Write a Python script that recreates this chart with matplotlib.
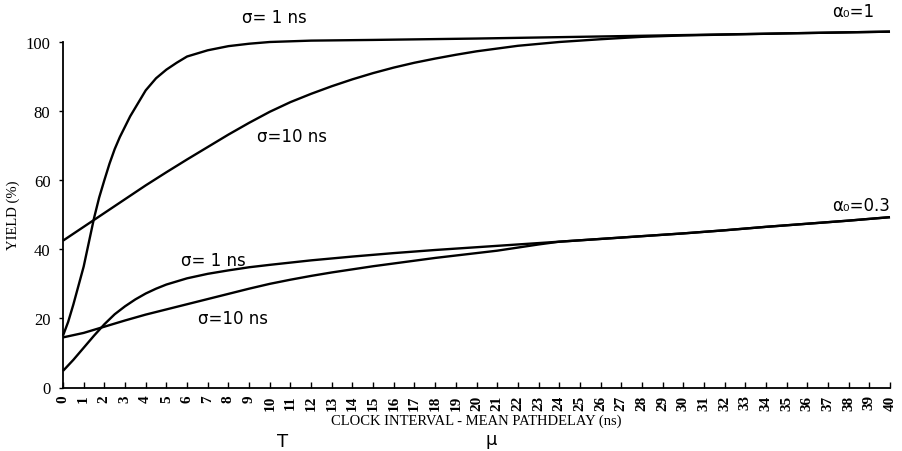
import matplotlib
matplotlib.use("Agg")
import matplotlib.pyplot as plt

# Yield vs. clock interval minus mean path delay
x_a = [0, 0.25, 0.5, 0.75, 1, 1.25, 1.5, 1.75, 2, 2.25, 2.5, 2.75, 3, 3.25, 3.5, 4, 4.5, 5, 5.5, 6, 7, 8,
       9, 10, 12, 15, 20, 25, 30, 35, 40]
y_a = [15, 19, 24, 29.5, 35, 42, 49, 55, 60, 64.8, 69, 72.5, 75.5, 78.5, 81, 86, 89.5, 92, 94, 95.8, 97.6,
       98.8, 99.5, 100, 100.4, 100.6, 101, 101.5, 102, 102.5, 103]

x_b = [0, 1, 2, 3, 4, 5, 6, 7, 8, 9, 10, 11, 12, 13, 14, 15, 16, 17, 18, 19, 20, 22, 24, 26, 28, 30, 35, 40]
y_b = [42.5, 46.5, 50.5, 54.5, 58.5, 62.3, 66, 69.6, 73.2, 76.6, 79.8, 82.6, 85, 87.2, 89.2, 91, 92.6, 94,
       95.2, 96.3, 97.3, 98.9, 100, 100.8, 101.5, 101.9, 102.5, 103]

x_c = [0, 0.5, 1, 1.5, 2, 2.5, 3, 3.5, 4, 4.5, 5, 6, 7, 8, 9, 10, 12, 14, 16, 18, 20, 22, 24, 26, 28, 30,
       32, 34, 36, 38, 40]
y_c = [4.8, 8, 11.5, 15, 18.3, 21.2, 23.5, 25.5, 27.2, 28.6, 29.8, 31.6, 32.9, 33.9, 34.8, 35.5, 36.8, 37.9,
       38.9, 39.8, 40.6, 41.4, 42.2, 43, 43.8, 44.6, 45.5, 46.5, 47.4, 48.3, 49.3]

x_d = [0, 1, 2, 3, 4, 5, 6, 7, 8, 9, 10, 11, 12, 13, 14, 15, 16, 17, 18, 19, 20, 21, 22, 23, 24, 26, 28,
       30, 32, 34, 36, 38, 40]
y_d = [14.5, 15.8, 17.6, 19.4, 21.1, 22.6, 24.1, 25.6, 27.1, 28.6, 30, 31.2, 32.3, 33.3, 34.2, 35.1, 35.9,
       36.7, 37.5, 38.2, 38.9, 39.6, 40.5, 41.4, 42.2, 43, 43.8, 44.6, 45.5, 46.5, 47.4, 48.3, 49.3]

x_ticks = list(range(0, 41))
y_ticks = [0, 20, 40, 60, 80, 100]

fig = plt.figure(figsize=(9.02, 4.52), dpi=100)
ax = fig.add_axes([63 / 902, 1 - 388.5 / 452, 827 / 902, 345.5 / 452])

for xs, ys in [(x_a, y_a), (x_b, y_b), (x_c, y_c), (x_d, y_d)]:
    ax.plot(xs, ys, color="black", lw=1.7, clip_on=False, solid_capstyle="butt", solid_joinstyle="round")

ax.set_xlim(0, 40)
ax.set_ylim(0, 100)
ax.spines["top"].set_visible(False)
ax.spines["right"].set_visible(False)
for s in ("left", "bottom"):
    ax.spines[s].set_linewidth(1.3)

serif = "Liberation Serif"
ax.set_xticks(x_ticks)
ax.set_xticklabels([str(t) for t in x_ticks], rotation=90, family=serif, size=11, weight="bold")
ax.set_yticks(y_ticks)
ax.set_yticklabels([str(t) for t in y_ticks], family=serif, size=12)
ax.tick_params(axis="x", direction="in", length=4, width=1, pad=5)
ax.tick_params(axis="y", direction="out", length=3, width=1, pad=6)

ax.set_xlabel("CLOCK INTERVAL - MEAN PATHDELAY (ns)", family=serif, size=10.5, labelpad=3)
ax.set_ylabel("YIELD (%)", family=serif, size=10.5, labelpad=4)

# hand-written curve annotations
hand = {"family": "DejaVu Sans", "size": 12, "ha": "center", "va": "center"}
ax.text(10.2, 107.2, "σ= 1 ns", **hand)
ax.text(11.1, 72.8, "σ=10 ns", **hand)
ax.text(38.2, 109.0, "α₀=1", **hand)
ax.text(38.6, 52.8, "α₀=0.3", **hand)
ax.text(7.25, 36.8, "σ= 1 ns", **hand)
ax.text(8.2, 20.1, "σ=10 ns", **hand)

fig.text(283 / 902, 1 - 442 / 452, "T", family="DejaVu Sans", size=13, ha="center", va="center")
fig.text(491 / 902, 1 - 440 / 452, "μ", family="DejaVu Sans", size=13, ha="center", va="center")

fig.savefig("out.png", dpi=100, facecolor="white")
